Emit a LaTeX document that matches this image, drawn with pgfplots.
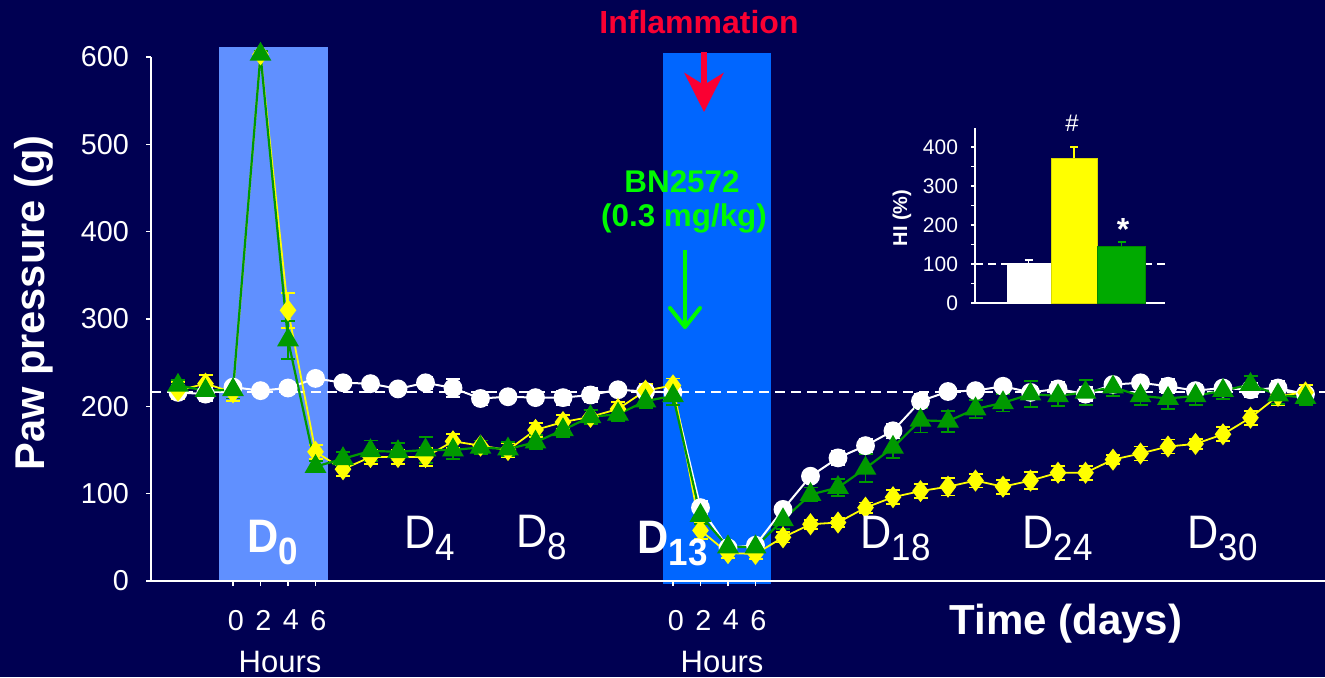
\documentclass[border=0pt]{standalone}
\usepackage{pgfplots}
\pgfplotsset{compat=1.18}
\usepackage{pgfplotstable}
\usepackage{graphicx}
\usepackage{fontspec}
\setmainfont{Liberation Sans}
\usetikzlibrary{arrows.meta}

\definecolor{navy}{RGB}{0,0,82}
\definecolor{boxA}{RGB}{96,144,255}
\definecolor{boxB}{RGB}{0,102,255}
\definecolor{serY}{RGB}{255,255,0}
\definecolor{serG}{RGB}{0,153,0}
\definecolor{barG}{RGB}{0,170,0}
\definecolor{redarr}{RGB}{250,0,50}
\definecolor{drug}{RGB}{0,250,0}

% time index (0..41); w = vehicle, y = inflamed, g = BN2572; e = SEM
\pgfplotstableread{
i  w   we  y   ye  g   ge
0  216 8   218 10  224 6
1  214 8   226 10  218 8
2  222 6   216 10  219 10
3  218 5   603 4   603 4
4  221 7   310 20  276 22
5  232 6   148 8   131 6
6  227 5   128 8   140 8
7  226 5   142 8   149 12
8  220 5   142 8   148 10
9  227 7   142 10  150 15
10 221 10  160 8   150 10
11 209 8   155 6   153 8
12 211 6   150 8   151 8
13 210 6   173 8   159 8
14 210 8   182 8   173 8
15 213 8   188 8   188 8
16 219 6   197 8   191 8
17 217 6   218 8   206 8
18 216 8   224 8   212 10
19 84  8   58  10  75  10
20 38  6   32  6   39  6
21 41  6   31  6   39  6
22 82  6   50  6   70  10
23 120 5   65  5   99  8
24 141 8   67  5   107 10
25 155 8   84  6   129 16
26 172 8   96  8   153 12
27 206 8   103 8   184 14
28 217 5   108 10  183 12
29 218 5   115 8   197 10
30 223 6   108 8   204 10
31 216 6   115 10  214 15
32 220 8   124 8   212 12
33 214 8   124 8   216 14
34 225 6   139 5   222 10
35 227 6   146 8   212 10
36 223 8   154 8   209 12
37 218 6   157 6   212 10
38 221 6   168 8   218 10
39 219 8   187 8   225 10
40 221 8   212 10  213 10
41 214 6   216 8   210 8
}\pawdata

\newcommand{\Dlab}[1]{\scalebox{0.92}[1]{\fontsize{23.5}{23.5}\selectfont D\raisebox{-6pt}{\fontsize{19}{19}\selectfont #1}}}

\begin{document}
\begin{tikzpicture}
\useasboundingbox (0,0) rectangle (662.5pt,-338.5pt);
\fill[navy] (0,0) rectangle (662.5pt,-338.5pt);

% main time course
\begin{axis}[
  at={(75.5pt,-290.5pt)}, anchor=south west,
  scale only axis, width=587pt, height=262pt,
  xmin=-0.982, xmax=41.71, ymin=0, ymax=600,
  axis x line=bottom, axis y line=left,
  axis line style={white, line width=1pt, -},
  axis on top,
  ytick={0,100,...,600},
  xtick={2,3,4,5,18,19,20,21}, xticklabels={0,2,4,6,0,2,4,6},
  tick style={white, line width=0.8pt}, tick align=outside, major tick length=2.5pt,
  ticklabel style={white, font=\fontsize{14.4}{14.4}\selectfont},
  /pgf/number format/assume math mode=true,
  yticklabel style={xshift=-5pt},
  xticklabel style={yshift=-8.5pt, xshift=1.5pt},
  clip=false,
]
\fill[boxA] (axis cs:1.49,0) rectangle (axis cs:5.45,612);
\fill[boxB] (axis cs:17.64,-3) rectangle (axis cs:21.56,605);
\addplot[white, line width=1pt, dash pattern=on 5pt off 3pt] coordinates {(-0.982,217) (41.71,217)};

\addplot[white, line width=1pt, mark=*, mark size=4.2pt, mark options={fill=white, solid},
  error bars/.cd, y dir=both, y explicit,
  error bar style={line width=0.9pt},
  error mark options={rotate=90, mark size=3.5pt, line width=0.9pt}]
  table[x=i, y=w, y error=we]{\pawdata};
\addplot[serY, line width=0.9pt, mark=diamond*, mark size=4.8pt, mark options={fill=serY, solid},
  error bars/.cd, y dir=both, y explicit,
  error bar style={line width=0.9pt},
  error mark options={rotate=90, mark size=3.5pt, line width=0.9pt}]
  table[x=i, y=y, y error=ye]{\pawdata};
\addplot[serG, line width=1.1pt, mark=triangle*, mark size=5.2pt, mark options={fill=serG, solid},
  error bars/.cd, y dir=both, y explicit,
  error bar style={line width=0.9pt},
  error mark options={rotate=90, mark size=3.5pt, line width=0.9pt}]
  table[x=i, y=g, y error=ge]{\pawdata};
\end{axis}

% hyperalgesia index inset
\begin{axis}[
  at={(487.5pt,-151.5pt)}, anchor=south west,
  scale only axis, width=95pt, height=87.75pt,
  xmin=975, xmax=1165, ymin=0, ymax=450,
  axis x line=bottom, axis y line=left,
  axis line style={white, line width=0.9pt, -},
  xtick=\empty, ytick={0,100,...,400}, minor y tick num=1,
  tick align=outside, major tick length=2pt, minor tick length=2pt,
  tick style={white, line width=0.8pt},
  ticklabel style={white, font=\fontsize{10.5}{10.5}\selectfont},
  /pgf/number format/assume math mode=true,
  yticklabel style={xshift=-3pt},
  clip=false,
]
\addplot[white, line width=0.8pt, dash pattern=on 4pt off 2.5pt] coordinates {(975,100) (1165,100)};
\addplot[ybar, bar width=43, bar shift=0pt, fill=white, draw=white,
  error bars/.cd, y dir=plus, y explicit,
  error bar style={white, line width=0.9pt},
  error mark options={rotate=90, mark size=2pt, white, line width=0.9pt}]
  coordinates {(1028.5,102) +- (0,8)};
\addplot[ybar, bar width=46, bar shift=0pt, fill=serY, draw=serY!85!black,
  error bars/.cd, y dir=plus, y explicit,
  error bar style={serY, line width=0.9pt},
  error mark options={rotate=90, mark size=2pt, serY, line width=0.9pt}]
  coordinates {(1074,372) +- (0,27)};
\addplot[ybar, bar width=48, bar shift=0pt, fill=barG, draw=barG!80!black,
  error bars/.cd, y dir=plus, y explicit,
  error bar style={barG, line width=0.9pt},
  error mark options={rotate=90, mark size=2pt, barG, line width=0.9pt}]
  coordinates {(1121.5,145) +- (0,12)};
\end{axis}

\begin{scope}[x=0.5pt, y=-0.5pt]
% axis titles
\node[white, font=\bfseries\fontsize{20.8}{20.8}\selectfont, rotate=90] at (34,303) {Paw pressure (g)};
\node[white, font=\bfseries\fontsize{21}{21}\selectfont] at (1066,624) {Time (days)};
\node[white, font=\fontsize{15.5}{15.5}\selectfont, anchor=base] at (280,672) {Hours};
\node[white, font=\fontsize{15.5}{15.5}\selectfont, anchor=base] at (722,672) {Hours};
% day labels
\node[white, anchor=base west, inner sep=0pt, font=\bfseries] at (247,552) {\Dlab{0}};
\node[white, anchor=base west, inner sep=0pt] at (404,548) {\Dlab{4}};
\node[white, anchor=base west, inner sep=0pt] at (516,547) {\Dlab{8}};
\node[white, anchor=base west, inner sep=0pt, font=\bfseries] at (637,553) {\Dlab{13}};
\node[white, anchor=base west, inner sep=0pt] at (860,548) {\Dlab{18}};
\node[white, anchor=base west, inner sep=0pt] at (1022,548) {\Dlab{24}};
\node[white, anchor=base west, inner sep=0pt] at (1187,548) {\Dlab{30}};
% treatment annotations
\node[redarr, font=\bfseries\fontsize{16}{16}\selectfont, anchor=base] at (699,33) {Inflammation};
\draw[redarr, line width=3pt, -{Stealth[length=19.5pt, width=19.5pt, inset=6pt]}] (704,52) -- (704,112);
\node[drug, font=\bfseries\fontsize{15.7}{15.7}\selectfont, anchor=base] at (682,192) {BN2572};
\node[drug, font=\bfseries\fontsize{15.7}{15.7}\selectfont, anchor=base] at (684,226) {(0.3 mg/kg)};
\draw[drug, line width=2pt] (685,250) -- (685,326);
\draw[drug, line width=2pt, line join=round, line cap=round] (670,308) -- (685,327) -- (700,308);
% inset labels
\node[white, font=\bfseries\fontsize{10}{10}\selectfont, rotate=90] at (902,218) {HI (\%)};
\node[white, font=\fontsize{12}{12}\selectfont] at (1072,123) {\#};
\node[white, font=\bfseries\fontsize{16}{16}\selectfont, anchor=base] at (1123,240) {*};
\end{scope}
\end{tikzpicture}
\end{document}
